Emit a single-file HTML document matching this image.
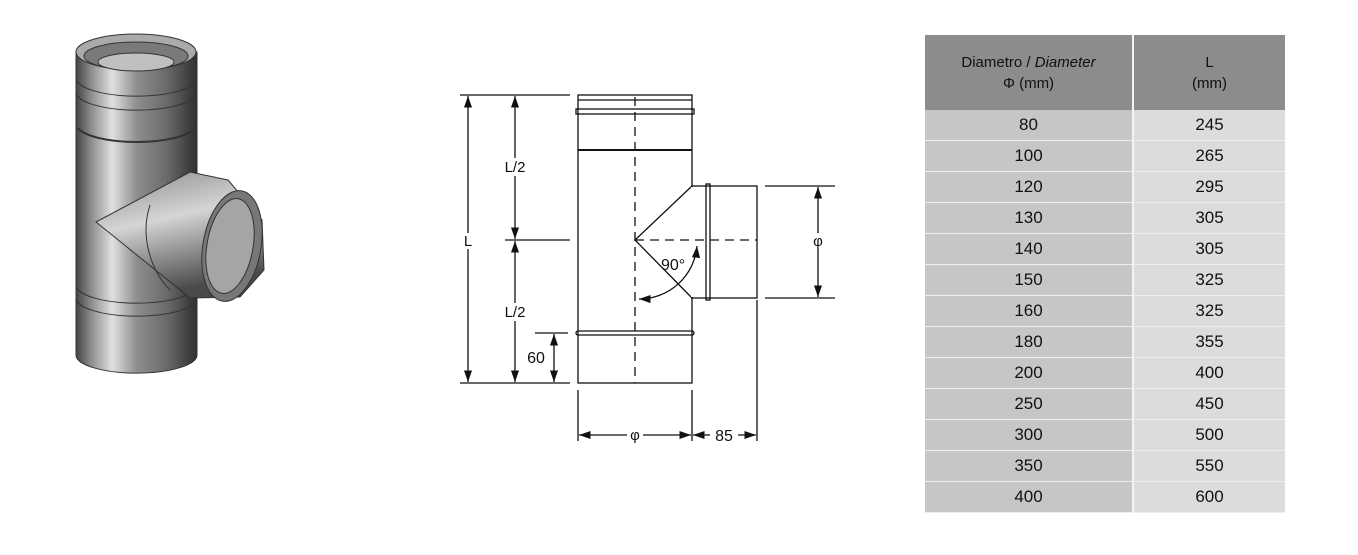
<!DOCTYPE html>
<html><head><meta charset="utf-8"><style>
body{margin:0;width:1358px;height:555px;background:#fff;overflow:hidden;position:relative;font-family:"Liberation Sans",sans-serif}
svg{position:absolute;left:0;top:0}
table{position:absolute;left:925px;top:35px;border-collapse:collapse;width:360px}
td{height:30px;text-align:center;font-size:17px;color:#111;border-bottom:1px solid #eee;padding:0}
td.l{background:#c6c6c6;width:207px;border-right:2px solid #f4f4f4}
td.r{background:#dcdcdc}
th{background:#8c8c8c;color:#111;font-weight:normal;font-size:15px;height:75px;line-height:21px;padding:0}
th.l{border-right:2px solid #f4f4f4}
</style></head><body>
<svg width="1358" height="555" viewBox="0 0 1358 555">
<defs>
<linearGradient id="g" x1="0" x2="1" y1="0" y2="0">
<stop offset="0" stop-color="#444"/><stop offset=".12" stop-color="#8a8a8a"/><stop offset=".3" stop-color="#e0e0e0"/><stop offset=".5" stop-color="#8f8f8f"/><stop offset=".75" stop-color="#6a6a6a"/><stop offset="1" stop-color="#303030"/></linearGradient>
<linearGradient id="g2" x1="0" x2="0.3" y1="0" y2="1">
<stop offset="0" stop-color="#8a8a8a"/><stop offset=".45" stop-color="#d5d5d5"/><stop offset="1" stop-color="#4a4a4a"/></linearGradient>
<marker id="a" viewBox="0 0 10 10" refX="10" refY="5" markerWidth="9" markerHeight="9" orient="auto-start-reverse"><path d="M0 1.5L10 5L0 8.5z" fill="#111"/></marker>
</defs>
<!-- 3D pipe -->
<g stroke="#333" stroke-width="1">
<path d="M76 52 L76 355 A60 18 0 0 0 197 355 L197 52 Z" fill="url(#g)"/>
<ellipse cx="136" cy="52" rx="60" ry="18" fill="#aaa"/>
<ellipse cx="136" cy="56" rx="52" ry="14" fill="#7a7a7a"/>
<ellipse cx="136" cy="62" rx="38" ry="9" fill="#c0c0c0"/>
<path d="M76 78 A60 18 0 0 0 197 78" fill="none"/>
<path d="M76 92 A60 18 0 0 0 197 92" fill="none"/>
<path d="M78 128 A60 18 0 0 0 195 128" fill="none" stroke-width="2"/>
<path d="M76 285 A60 18 0 0 0 197 285" fill="none"/>
<path d="M76 298 A60 18 0 0 0 197 298" fill="none"/>
<path d="M96 222 L190 172 L228 180 L262 220 L264 270 L240 297 L190 298 Z" fill="url(#g2)"/>
<ellipse cx="232" cy="246" rx="29" ry="56" transform="rotate(10 232 246)" fill="#777"/>
<ellipse cx="230" cy="246" rx="23" ry="48" transform="rotate(10 230 246)" fill="#a5a5a5"/>
<path d="M150 205 C140 235 150 270 170 290" fill="none"/>
</g>
<!-- technical drawing -->
<g stroke="#111" stroke-width="1.3" fill="none">
<rect x="578" y="95" width="114" height="288" fill="#fff"/>
<line x1="578" y1="100" x2="692" y2="100"/>
<rect x="576" y="109" width="118" height="5"/>
<line x1="578" y1="150" x2="692" y2="150" stroke-width="2"/>
<rect x="576" y="331" width="118" height="4" rx="2"/>
<rect x="692" y="186" width="65" height="112" fill="#fff"/>
<rect x="706" y="184" width="4" height="116"/>
<polyline points="692,186 635,240 692,298"/>
<line x1="692" y1="187" x2="692" y2="297" stroke="#fff" stroke-width="2"/>
<line x1="635" y1="97" x2="635" y2="383" stroke-dasharray="9,6"/>
<line x1="635" y1="240" x2="757" y2="240" stroke-dasharray="9,6"/>
<path d="M697 246 A58 58 0 0 1 639 299" marker-start="url(#a)" marker-end="url(#a)"/>
<line x1="460" y1="95" x2="570" y2="95"/>
<line x1="460" y1="383" x2="570" y2="383"/>
<line x1="505" y1="240" x2="570" y2="240"/>
<line x1="535" y1="333" x2="568" y2="333"/>
<line x1="765" y1="186" x2="835" y2="186"/>
<line x1="765" y1="298" x2="835" y2="298"/>
<line x1="468" y1="96" x2="468" y2="382" marker-start="url(#a)" marker-end="url(#a)"/>
<line x1="515" y1="96" x2="515" y2="239" marker-start="url(#a)" marker-end="url(#a)"/>
<line x1="515" y1="241" x2="515" y2="382" marker-start="url(#a)" marker-end="url(#a)"/>
<line x1="554" y1="334" x2="554" y2="382" marker-start="url(#a)" marker-end="url(#a)"/>
<line x1="818" y1="187" x2="818" y2="297" marker-start="url(#a)" marker-end="url(#a)"/>
<line x1="578" y1="390" x2="578" y2="441"/>
<line x1="692" y1="390" x2="692" y2="441"/>
<line x1="757" y1="300" x2="757" y2="441"/>
<line x1="579" y1="435" x2="691" y2="435" marker-start="url(#a)" marker-end="url(#a)"/>
<line x1="693" y1="435" x2="756" y2="435" marker-start="url(#a)" marker-end="url(#a)"/>
</g>
<g font-family="Liberation Sans,sans-serif" font-size="15" fill="#111">
<rect x="499" y="158" width="32" height="18" fill="#fff"/><text x="515" y="172" text-anchor="middle">L/2</text>
<rect x="499" y="303" width="32" height="18" fill="#fff"/><text x="515" y="317" text-anchor="middle">L/2</text>
<rect x="460" y="233" width="16" height="16" fill="#fff"/><text x="468" y="246" text-anchor="middle">L</text>
<text x="536" y="363" text-anchor="middle" font-size="16">60</text>
<text x="661" y="270" font-size="16">90°</text>
<rect x="811" y="233" width="14" height="16" fill="#fff"/><text x="818" y="246" text-anchor="middle">φ</text>
<rect x="627" y="427" width="16" height="16" fill="#fff"/><text x="635" y="440" text-anchor="middle">φ</text>
<rect x="710" y="427" width="28" height="16" fill="#fff"/><text x="724" y="441" text-anchor="middle" font-size="16">85</text>
</g>
</svg>
<table>
<tr><th class="l">Diametro / <i>Diameter</i><br>Φ (mm)</th><th>L<br>(mm)</th></tr>
<tr><td class="l">80</td><td class="r">245</td></tr>
<tr><td class="l">100</td><td class="r">265</td></tr>
<tr><td class="l">120</td><td class="r">295</td></tr>
<tr><td class="l">130</td><td class="r">305</td></tr>
<tr><td class="l">140</td><td class="r">305</td></tr>
<tr><td class="l">150</td><td class="r">325</td></tr>
<tr><td class="l">160</td><td class="r">325</td></tr>
<tr><td class="l">180</td><td class="r">355</td></tr>
<tr><td class="l">200</td><td class="r">400</td></tr>
<tr><td class="l">250</td><td class="r">450</td></tr>
<tr><td class="l">300</td><td class="r">500</td></tr>
<tr><td class="l">350</td><td class="r">550</td></tr>
<tr><td class="l">400</td><td class="r">600</td></tr>
</table>
</body></html>
